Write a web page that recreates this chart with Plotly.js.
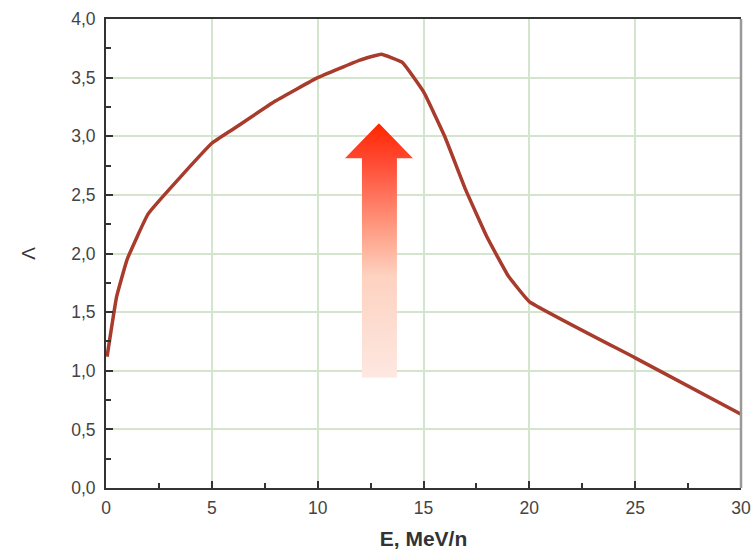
<!DOCTYPE html>
<html>
<head>
<meta charset="utf-8">
<script src="https://cdn.plot.ly/plotly-3.0.1.min.js"></script>
<style>html,body{margin:0;padding:0;background:#fff;}#chart{width:753px;height:558px;}</style>
</head>
<body>
<div id="chart"></div>
<script>
const energy = [0.05, 0.5, 1, 2, 5, 6, 8, 10, 12, 13, 14, 15, 16, 17, 18, 19, 20, 25, 30];
const lambda = [1.12, 1.63, 1.95, 2.34, 2.94, 3.06, 3.30, 3.50, 3.65, 3.70, 3.63, 3.38, 3.00, 2.54, 2.14, 1.81, 1.59, 1.11, 0.63];
const xTitle = "E, MeV/n";
const yTitle = "Λ";

const arrowSvg = '<svg xmlns="http://www.w3.org/2000/svg" width="68" height="255" viewBox="0 0 68 255" preserveAspectRatio="none">' +
  '<defs><linearGradient id="g" x1="0" y1="0" x2="0" y2="1">' +
  '<stop offset="0" stop-color="#ff2600"/>' +
  '<stop offset="0.15" stop-color="#ff4a33"/>' +
  '<stop offset="0.42" stop-color="#ff9d85"/>' +
  '<stop offset="0.6" stop-color="#fdd2c0"/>' +
  '<stop offset="1" stop-color="#fde8e1"/>' +
  '</linearGradient></defs>' +
  '<polygon points="34,0 68,35 52,35 52,255 17,255 17,35 0,35" fill="url(#g)"/></svg>';

const trace = {
  x: energy, y: lambda, type: 'scatter', mode: 'lines',
  line: {color: '#a83b2c', width: 3.5, shape: 'spline', smoothing: 0.3},
  hoverinfo: 'skip'
};

const layout = {
  width: 753, height: 558,
  margin: {l: 106, r: 12, t: 19, b: 70},
  paper_bgcolor: '#fff', plot_bgcolor: '#fff',
  separators: ', ',
  font: {family: 'Liberation Sans, Arial, sans-serif', color: '#444', size: 17},
  showlegend: false,
  xaxis: {
    range: [0, 30], tickvals: [0, 5, 10, 15, 20, 25, 30],
    ticks: 'inside', ticklen: 7, tickwidth: 2, tickcolor: '#333',
    minor: {dtick: 2.5, tick0: 0, ticks: 'inside', ticklen: 5, tickwidth: 2, tickcolor: '#333', showgrid: false},
    showgrid: true, gridcolor: '#d3e6cd', gridwidth: 2,
    zeroline: false, showline: true, linecolor: '#333', linewidth: 2, mirror: true,
    tickfont: {size: 17.5, color: '#444'}, ticklabelstandoff: 3,
    title: {text: '<b>' + xTitle + '</b>', font: {size: 21, color: '#333'}, standoff: 14}
  },
  yaxis: {
    range: [0, 4], dtick: 0.5, tickformat: '.1f',
    ticks: 'inside', ticklen: 7, tickwidth: 2, tickcolor: '#333',
    minor: {dtick: 0.25, tick0: 0, ticks: 'inside', ticklen: 5, tickwidth: 2, tickcolor: '#333', showgrid: false},
    showgrid: true, gridcolor: '#d3e6cd', gridwidth: 2,
    zeroline: false, showline: true, linecolor: '#333', linewidth: 2, mirror: false,
    tickfont: {size: 17.5, color: '#444'}, ticklabelstandoff: 5,
    title: {text: yTitle, font: {size: 19, color: '#333'}, standoff: 31}
  },
  shapes: [
    {type: 'line', xref: 'paper', yref: 'paper', x0: 1, x1: 1, y0: 0, y1: 1,
     line: {color: '#999', width: 2.5}}
  ],
  images: [{
    source: 'data:image/svg+xml;base64,' + btoa(arrowSvg),
    xref: 'x', yref: 'y', x: 11.29, y: 3.11, sizex: 3.21, sizey: 2.17,
    sizing: 'stretch', xanchor: 'left', yanchor: 'top', layer: 'above'
  }]
};

Plotly.newPlot('chart', [trace], layout, {staticPlot: true, displayModeBar: false});
</script>
</body>
</html>
